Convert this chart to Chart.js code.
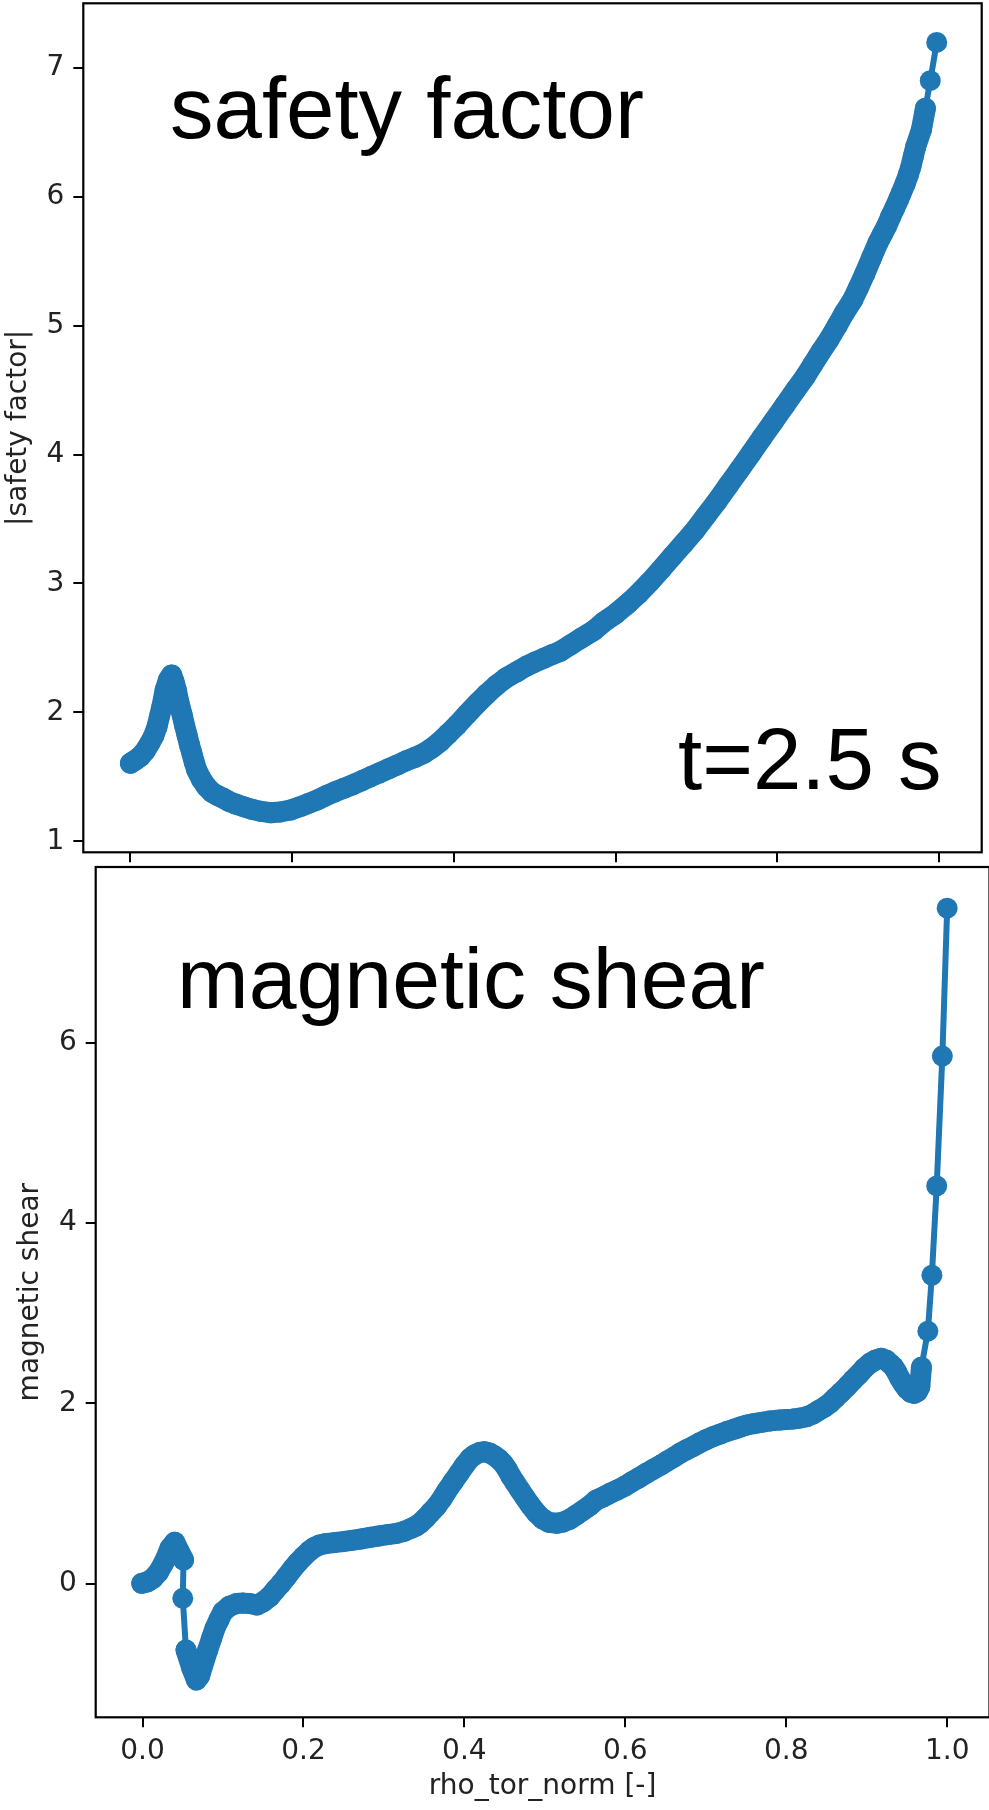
<!DOCTYPE html>
<html>
<head>
<meta charset="utf-8">
<script src="https://cdn.jsdelivr.net/npm/chart.js@4.4.1/dist/chart.umd.min.js"></script>
<style>
  html, body { margin: 0; padding: 0; background: #fff; overflow: hidden; }
  #page { position: relative; width: 989px; height: 1810px; overflow: hidden; background: #fff; }
  canvas { position: absolute; left: 0; }
  #chart-q { top: 0; }
  #chart-s { top: 865px; }
</style>
</head>
<body>
<div id="page">
  <canvas id="chart-q" width="989" height="865"></canvas>
  <canvas id="chart-s" width="1000" height="945"></canvas>
</div>
<script>
// top panel: |safety factor| vs rho_tor_norm
var rhoQ = [0.000, 0.006, 0.012, 0.018, 0.024, 0.029, 0.033, 0.036, 0.039, 0.043,
    0.047, 0.051, 0.054, 0.057, 0.060, 0.064, 0.067, 0.070, 0.073, 0.076,
    0.079, 0.082, 0.088, 0.094, 0.101, 0.108, 0.115, 0.122, 0.130, 0.140,
    0.150, 0.160, 0.173, 0.185, 0.198, 0.210, 0.220, 0.231, 0.242, 0.253,
    0.264, 0.275, 0.286, 0.297, 0.308, 0.319, 0.330, 0.341, 0.352, 0.363,
    0.373, 0.383, 0.393, 0.404, 0.416, 0.429, 0.441, 0.453, 0.465, 0.478,
    0.490, 0.500, 0.511, 0.522, 0.532, 0.544, 0.557, 0.573, 0.585, 0.600,
    0.615, 0.628, 0.642, 0.656, 0.670, 0.684, 0.698, 0.711, 0.725, 0.739,
    0.753, 0.767, 0.781, 0.795, 0.809, 0.823, 0.834, 0.844, 0.854, 0.864,
    0.874, 0.883, 0.893, 0.900, 0.908, 0.916, 0.924, 0.930, 0.935, 0.940,
    0.945, 0.950, 0.953, 0.958, 0.962, 0.965, 0.968, 0.971, 0.978, 0.983,
    0.989, 0.997];
var safetyFactor = [1.606, 1.630, 1.657, 1.700, 1.761, 1.820, 1.890, 1.970, 2.045, 2.174,
    2.252, 2.291, 2.240, 2.169, 2.080, 1.981, 1.900, 1.826, 1.750, 1.684,
    1.615, 1.554, 1.480, 1.425, 1.380, 1.355, 1.335, 1.310, 1.290, 1.270,
    1.250, 1.235, 1.223, 1.228, 1.244, 1.270, 1.295, 1.322, 1.355, 1.385,
    1.412, 1.440, 1.470, 1.502, 1.532, 1.563, 1.593, 1.625, 1.652, 1.684,
    1.725, 1.774, 1.835, 1.903, 1.985, 2.071, 2.145, 2.213, 2.270, 2.316,
    2.360, 2.390, 2.420, 2.450, 2.475, 2.523, 2.575, 2.636, 2.700, 2.765,
    2.844, 2.920, 3.010, 3.108, 3.210, 3.310, 3.412, 3.520, 3.635, 3.758,
    3.880, 4.005, 4.132, 4.255, 4.380, 4.505, 4.600, 4.700, 4.800, 4.893,
    5.000, 5.100, 5.198, 5.290, 5.400, 5.520, 5.637, 5.710, 5.770, 5.843,
    5.910, 5.980, 6.025, 6.100, 6.170, 6.231, 6.310, 6.386, 6.516, 6.684,
    6.898, 7.195];

// bottom panel: magnetic shear vs rho_tor_norm
var rhoS = [-0.001, 0.006, 0.013, 0.020, 0.026, 0.030, 0.034, 0.040, 0.051, 0.050,
    0.054, 0.061, 0.067, 0.071, 0.075, 0.081, 0.086, 0.090, 0.095, 0.100,
    0.108, 0.117, 0.125, 0.133, 0.142, 0.150, 0.158, 0.165, 0.172, 0.179,
    0.186, 0.193, 0.200, 0.207, 0.213, 0.220, 0.228, 0.238, 0.249, 0.260,
    0.272, 0.283, 0.294, 0.305, 0.316, 0.325, 0.333, 0.340, 0.345, 0.352,
    0.358, 0.365, 0.372, 0.379, 0.386, 0.393, 0.400, 0.407, 0.413, 0.419,
    0.425, 0.431, 0.437, 0.443, 0.448, 0.453, 0.458, 0.463, 0.469, 0.475,
    0.482, 0.490, 0.497, 0.505, 0.515, 0.523, 0.531, 0.539, 0.547, 0.555,
    0.564, 0.572, 0.581, 0.590, 0.599, 0.608, 0.617, 0.626, 0.635, 0.644,
    0.652, 0.660, 0.668, 0.676, 0.684, 0.692, 0.700, 0.709, 0.718, 0.727,
    0.736, 0.744, 0.751, 0.760, 0.770, 0.780, 0.792, 0.800, 0.808, 0.816,
    0.825, 0.833, 0.840, 0.847, 0.854, 0.861, 0.868, 0.876, 0.883, 0.890,
    0.897, 0.904, 0.911, 0.918, 0.924, 0.929, 0.933, 0.937, 0.941, 0.945,
    0.950, 0.955, 0.959, 0.963, 0.966, 0.968, 0.976, 0.981, 0.987, 0.994,
    1.000];
var magneticShear = [0.004, 0.020, 0.060, 0.130, 0.226, 0.300, 0.392, 0.460, 0.263, -0.162,
    -0.735, -0.930, -1.068, -1.020, -0.900, -0.735, -0.600, -0.495, -0.400, -0.310,
    -0.250, -0.218, -0.215, -0.220, -0.236, -0.200, -0.144, -0.070, 0.000, 0.078,
    0.160, 0.235, 0.300, 0.360, 0.400, 0.429, 0.445, 0.455, 0.466, 0.480,
    0.497, 0.514, 0.530, 0.545, 0.559, 0.580, 0.610, 0.640, 0.670, 0.730,
    0.790, 0.854, 0.940, 1.040, 1.131, 1.220, 1.310, 1.390, 1.430, 1.455,
    1.463, 1.450, 1.420, 1.380, 1.335, 1.270, 1.190, 1.120, 1.039, 0.960,
    0.870, 0.780, 0.720, 0.680, 0.670, 0.685, 0.715, 0.762, 0.810, 0.860,
    0.928, 0.960, 1.002, 1.040, 1.080, 1.130, 1.175, 1.224, 1.270, 1.315,
    1.360, 1.400, 1.446, 1.485, 1.520, 1.560, 1.595, 1.630, 1.660, 1.690,
    1.715, 1.740, 1.760, 1.775, 1.790, 1.805, 1.815, 1.820, 1.825, 1.835,
    1.851, 1.880, 1.920, 1.955, 2.000, 2.060, 2.120, 2.190, 2.258, 2.320,
    2.390, 2.443, 2.480, 2.499, 2.480, 2.440, 2.406, 2.350, 2.280, 2.222,
    2.160, 2.120, 2.110, 2.130, 2.184, 2.400, 2.800, 3.420, 4.410, 5.850,
    7.490];

var xTicks = [0, 0.2, 0.4, 0.6, 0.8, 1.0];
var qTicks = [1, 2, 3, 4, 5, 6, 7];
var shearTicks = [0, 2, 4, 6];

var BLUE = "#1f77b4";
var TEXT = "#222222";
var tickFont = { family: "DejaVu Sans", size: 28 };

function toPoints(xs, ys) {
    return xs.map(function(x, i) { return { x: x, y: ys[i] }; });
}

// overlapping markers look like a solid band, so close segments get a wide stroke
function segmentWidth(c) {
    var dx = c.p1.x - c.p0.x, dy = c.p1.y - c.p0.y;
    return Math.sqrt(dx * dx + dy * dy) < 24 ? 21 : 6;
}

function noPadding(s) {
    s.paddingLeft = 0; s.paddingRight = 0; s.paddingTop = 0; s.paddingBottom = 0;
}

// box around the plot + big annotations
var framePlugin = {
    id: "frame",
    afterDraw: function(chart, args, opts) {
        var a = chart.chartArea, c = chart.ctx;
        c.save();
        c.strokeStyle = "#000";
        c.lineWidth = 2.2;
        c.strokeRect(a.left, a.top, a.right - a.left, a.bottom - a.top);
        c.fillStyle = "#000";
        c.textBaseline = "alphabetic";
        c.textAlign = "left";
        (opts.notes || []).forEach(function(n) {
            c.font = n.size + 'px "Liberation Sans", Arial, sans-serif';
            c.fillText(n.text, n.x, n.y);
        });
        c.restore();
    }
};

function xAxis(showLabels, height) {
    return {
        type: "linear",
        min: -0.0582,
        max: 1.0526,
        afterBuildTicks: function(s) { s.ticks = xTicks.map(function(v) { return { value: v }; }); },
        afterFit: function(s) { s.height = height; noPadding(s); },
        grid: { drawOnChartArea: false, drawTicks: true, tickLength: 10, tickWidth: 2, lineWidth: 2, tickColor: "#000" },
        border: { display: false },
        ticks: {
            display: showLabels,
            padding: 8,
            color: TEXT,
            font: tickFont,
            callback: function(v) { return Number(v).toFixed(1); }
        },
        title: {
            display: showLabels,
            text: "rho_tor_norm [-]",
            color: TEXT,
            font: tickFont,
            padding: { top: 0, bottom: 6 }
        }
    };
}

function yAxis(min, max, ticks, label, width, titlePad) {
    return {
        type: "linear",
        min: min,
        max: max,
        afterBuildTicks: function(s) { s.ticks = ticks.map(function(v) { return { value: v }; }); },
        afterFit: function(s) { s.width = width; noPadding(s); },
        grid: { drawOnChartArea: false, drawTicks: true, tickLength: 10, tickWidth: 2, lineWidth: 2, tickColor: "#000" },
        border: { display: false },
        ticks: {
            padding: 9,
            color: TEXT,
            font: tickFont,
            callback: function(v) { return String(v); }
        },
        title: {
            display: true,
            text: label,
            color: TEXT,
            font: tickFont,
            padding: { top: titlePad, bottom: 0 }
        }
    };
}

function dataset(xs, ys) {
    return {
        data: toPoints(xs, ys),
        showLine: true,
        borderColor: BLUE,
        borderWidth: 6,
        borderJoinStyle: "round",
        borderCapStyle: "round",
        segment: { borderWidth: segmentWidth },
        pointRadius: 10.5,
        pointBorderWidth: 0,
        pointBackgroundColor: BLUE,
        pointHoverRadius: 10.5
    };
}

document.addEventListener("DOMContentLoaded", function() {

    // 1. top panel
    new Chart(document.getElementById("chart-q").getContext("2d"), {
        type: "scatter",
        data: { datasets: [dataset(rhoQ, safetyFactor)] },
        options: {
            responsive: false,
            devicePixelRatio: 1,
            animation: false,
            events: [],
            layout: { autoPadding: false, padding: { left: 0, top: 3.3, right: 7.3, bottom: 0 } },
            plugins: {
                legend: { display: false },
                tooltip: { enabled: false },
                frame: {
                    notes: [
                        { text: "safety factor", x: 170, y: 138, size: 87 },
                        { text: "t=2.5 s", x: 678, y: 789, size: 87 }
                    ]
                }
            },
            scales: {
                x: xAxis(false, 12.7),
                y: yAxis(0.916, 7.498, qTicks, "|safety factor|", 83.3, 1.7)
            }
        },
        plugins: [framePlugin]
    });

    // 2. bottom panel
    new Chart(document.getElementById("chart-s").getContext("2d"), {
        type: "scatter",
        data: { datasets: [dataset(rhoS, magneticShear)] },
        options: {
            responsive: false,
            devicePixelRatio: 1,
            animation: false,
            events: [],
            layout: { autoPadding: false, padding: { left: 0, top: 2, right: 10.5, bottom: 0 } },
            plugins: {
                legend: { display: false },
                tooltip: { enabled: false },
                frame: {
                    notes: [
                        { text: "magnetic shear", x: 177, y: 143, size: 86 }
                    ]
                }
            },
            scales: {
                x: xAxis(true, 92.7),
                y: yAxis(-1.481, 7.946, shearTicks, "magnetic shear", 95.7, 14.2)
            }
        },
        plugins: [framePlugin]
    });
});
</script>
</body>
</html>
